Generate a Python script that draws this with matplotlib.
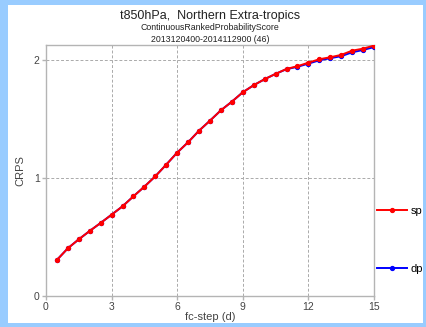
"""CRPS against forecast step for t850hPa, Northern Extra-tropics."""
import matplotlib.pyplot as plt
from matplotlib.patches import Rectangle

FILENAME = 'out.png'

# forecast step in days
FC_STEP = [0.5, 1.0, 1.5, 2.0, 2.5, 3.0, 3.5, 4.0, 4.5, 5.0,
           5.5, 6.0, 6.5, 7.0, 7.5, 8.0, 8.5, 9.0, 9.5, 10.0,
           10.5, 11.0, 11.5, 12.0, 12.5, 13.0, 13.5, 14.0, 14.5, 15.0]
CRPS_SP = [0.306, 0.405, 0.481, 0.552, 0.620, 0.690, 0.761, 0.846, 0.928, 1.016,
           1.115, 1.217, 1.305, 1.403, 1.488, 1.576, 1.649, 1.729, 1.789, 1.840,
           1.885, 1.927, 1.950, 1.980, 2.009, 2.026, 2.046, 2.082, 2.099, 2.125]
CRPS_DP = [0.306, 0.405, 0.481, 0.552, 0.620, 0.690, 0.761, 0.846, 0.928, 1.016,
           1.115, 1.217, 1.305, 1.403, 1.488, 1.576, 1.649, 1.729, 1.789, 1.840,
           1.885, 1.925, 1.945, 1.972, 2.000, 2.018, 2.035, 2.068, 2.088, 2.112]
X_TICKS = [0, 3, 6, 9, 12, 15]
Y_TICKS = [0, 1, 2]

TITLE = 't850hPa,  Northern Extra-tropics'
SUBTITLE = 'ContinuousRankedProbabilityScore'
PERIOD = '2013120400-2014112900 (46)'

plt.rcParams['font.family'] = ['Liberation Sans', 'DejaVu Sans']

fig = plt.figure(figsize=(4.27, 3.27), dpi=100, facecolor='#99ccff')
# white panel inside the blue frame, kept behind the axes
fig.patches.append(Rectangle((8 / 427, 4 / 327), 415 / 427, 318 / 327,
                             transform=fig.transFigure, facecolor='white',
                             edgecolor='none', zorder=-10))

ax = fig.add_axes([0.1077, 0.0948, 0.7682, 0.7676])
ax.set_zorder(1)
dp_line, = ax.plot(FC_STEP, CRPS_DP, color='#0000ff', marker='o', markersize=2.8,
                   linewidth=1.4, zorder=3)
sp_line, = ax.plot(FC_STEP, CRPS_SP, color='#ff0000', marker='o', markersize=2.8,
                   linewidth=1.4, zorder=4)

ax.set_xlim(0, 15)
ax.set_ylim(0, 2.13)
ax.set_xticks(X_TICKS)
ax.set_yticks(Y_TICKS)
ax.grid(True, color='#aaaaaa', linestyle=(0, (3, 2)), linewidth=0.7)
for spine in ax.spines.values():
    spine.set_color('#b4b4b4')
    spine.set_linewidth(1.0)
ax.tick_params(colors='#b4b4b4', labelcolor='#444444', labelsize=7.5,
               length=3, width=1.0, pad=1.5)

ax.set_xlabel('fc-step (d)', fontsize=8, color='#444444', labelpad=0)
ax.set_ylabel('CRPS', fontsize=8, color='#444444', labelpad=6)

# three title lines above the axes
fig.text(0.492, 0.950, TITLE, ha='center', va='center', fontsize=9, color='#222222')
fig.text(0.492, 0.915, SUBTITLE, ha='center', va='center', fontsize=6.3, color='#222222')
fig.text(0.492, 0.879, PERIOD, ha='center', va='center', fontsize=6.3, color='#222222')

fig.legend([sp_line, dp_line], ['sp', 'dp'], loc='center left',
           bbox_to_anchor=(0.882, 0.266), frameon=False, fontsize=8,
           handlelength=2.7, handletextpad=0.35, labelspacing=4.3,
           borderpad=0, borderaxespad=0)

fig.savefig(FILENAME, dpi=100, facecolor=fig.get_facecolor())
plt.close(fig)
